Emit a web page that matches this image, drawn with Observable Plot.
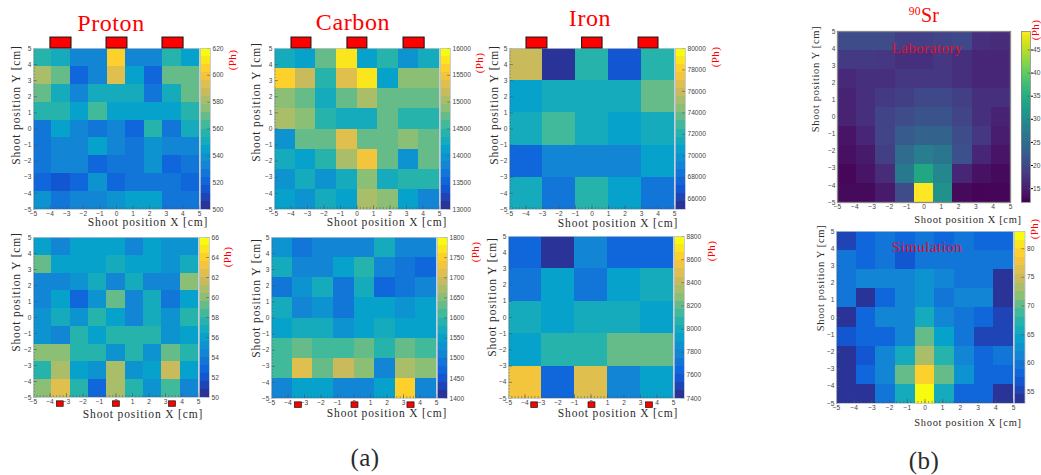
<!DOCTYPE html>
<html><head><meta charset="utf-8">
<script src="https://cdn.jsdelivr.net/npm/d3@7"></script>
<script src="https://cdn.jsdelivr.net/npm/@observablehq/plot@0.6"></script>
<style>
html,body{margin:0;padding:0;background:#fff}
#page{position:relative;width:1041px;height:475px;overflow:hidden;background:#fff}
#page svg{position:absolute;background:transparent;overflow:visible}
.t{position:absolute;white-space:nowrap;font-family:"Liberation Serif",serif;color:#2b2b2b;line-height:1}
.t sup{font-size:.58em;line-height:0;vertical-align:.62em}
</style></head><body><div id="page"></div>
<script>
// Values (rows run from the top row y=5 downwards)
const protonTop=[
[558,548,530,530,604,530,530,556,546],
[578,566,520,534,590,544,520,570,566],
[567,548,534,548,552,552,527,552,570],
[555,555,543,560,543,543,543,543,555],
[527,546,532,525,532,519,555,525,548],
[529,534,534,546,534,529,536,530,530],
[529,534,534,520,529,529,536,522,529],
[523,517,521,536,521,529,529,529,521],
[540,525,530,530,536,544,544,529,529]];
const protonBottom=[
[56,54.3,55.9,55.9,55.9,54.3,55.7,54.8,54.8],
[59,55.6,55.6,55.6,56.7,55.8,55.6,54.8,56.7],
[54.3,54.3,55.3,57,54.3,56.7,54,54.3,60.2],
[54.3,55.9,52.8,55.3,59,54,56.7,53.8,56],
[55.3,56.7,55,57.5,56,54.2,56.7,55.3,57.5],
[55.3,54.2,57.4,55.8,57.2,57.2,57.2,55.3,56],
[60,60,57.5,57.5,55.3,57.4,55.3,59,57.5],
[57.2,60.5,56,54.8,61,55.3,56,61.2,56],
[59.6,62.6,57.2,52.9,61,57.2,55.4,58.5,54.5]];
const carbonTop=[
[14320,14140,14680,15830,14140,14410,13900,14290],
[15580,15240,14440,15360,15830,14050,14930,14930],
[14880,14680,14250,14680,15060,14650,14650,14650],
[15040,14880,14480,14300,14300,14650,14420,14420],
[13950,14780,14650,15380,14650,14650,14930,14780],
[14300,14050,14440,15020,15440,14650,14020,14780],
[13970,14300,13950,14280,14800,14230,14480,14480],
[14130,13950,14300,14130,15040,14930,14130,13770]];
const carbonBottom=[
[1528,1496,1512,1512,1512,1572,1512,1512],
[1568,1508,1508,1540,1584,1508,1496,1472],
[1490,1536,1560,1496,1560,1476,1496,1508],
[1560,1504,1532,1496,1548,1548,1520,1552],
[1552,1576,1576,1520,1552,1576,1552,1552],
[1600,1620,1600,1600,1632,1588,1620,1600],
[1600,1700,1624,1684,1656,1508,1672,1656],
[1508,1540,1540,1508,1508,1540,1740,1508]];
const ironTop=[
[75900,65400,72200,67200,72200],
[70700,71600,71000,71000,73250],
[71600,72500,71300,70250,71000],
[67300,69350,69200,69200,70250],
[71600,68100,71750,70500,68100]];
const ironBottom=[
[7620,7460,7800,7630,7630],
[7740,7930,7690,7930,8015],
[7960,7930,8000,8000,7930],
[7930,8030,8030,8170,8170],
[8565,7630,8500,7790,7930]];
const srLab=[
[20.5,20.5,20.5,19,19,19.5,20,17,16.5],
[18.3,18.3,17.8,17.2,17.2,17.8,17.2,16,16],
[16.2,17.2,17.2,17.8,17.8,17.8,17.2,16,16],
[15.5,17.2,18.2,18.8,20,20,18.8,17.2,17.2],
[15.5,17.2,19.5,20.5,21.5,21.5,19.5,17.2,15.5],
[14,16,19.5,22.5,23.5,23.5,20.5,17.8,15],
[13.5,14.5,18.8,25,27.5,26.5,21,16,14],
[12.7,14,16.5,27,34,29,16,13.7,13],
[13,13,14.5,20.5,49,30.5,13,12.3,12.5]];
const srSim=[
[55,58,60,57.5,60,58,60,58,58],
[60,58,60,57,60,59,60,59.5,59.5],
[60,61,61,61,62,61,59,59,53.5],
[60,53.5,58,61.5,62,59,61,61,53.5],
[53.5,58,60.5,60.5,65,61,60,57.5,55.5],
[56,58,58,61,69.5,64,60,55,55],
[53.5,56,61,66,73,67,61,58,59.5],
[53.5,58,61,70,78.5,70,63,58,58],
[53.5,53.5,59,66,83,66,58,58,53.5]];

// Red detector markers [x1,x2] in cm
const markersTopProton=[[-3.98,-2.71],[-0.6,0.66],[2.77,4.04]];
const markersTopCarbon=[[-3.97,-2.76],[-0.58,0.63],[2.82,4.1]];
const markersTopIron=[[-3.97,-2.7],[-0.6,0.64],[2.82,4.03]];
const markersBotProton=[[-3.58,-3.17],[-0.18,0.23],[3.22,3.63]];
const markersBotCarbon=[[-3.57,-3.16],[-0.15,0.27],[3.24,3.67]];
const markersBotIron=[[-3.62,-3.22],[-0.15,0.27],[3.34,3.75]];

const axisValues=d3.range(-5,6);
const minorValues=d3.range(-25,26).map(d=>d/5);

// ROOT "bird" palette stops
const birdStops=["#2a3398","#0f5cdd","#1481d6","#06a4ca","#2eb7a4","#87bf77","#d1bb59","#fec832","#f9fb0e"];
const birdInterp=d3.piecewise(d3.interpolateRgb,birdStops);
const birdLevels=d3.range(20).map(i=>d3.color(birdInterp(i/19)).formatHex());

const panels=[
 {z:protonTop,f:[33,199,48,209],bar:[200,210],dom:[500,620],ticks:d3.range(500,621,20),mk:markersTopProton,my:[5,5.68],sw:1,minor:true},
 {z:protonBottom,f:[33,198,237,397],bar:[199,209],dom:[50,66],ticks:d3.range(50,67,2),mk:markersBotProton,my:[-5.58,-5.24],sw:.7,minor:true},
 {z:carbonTop,f:[274,439,48,209],bar:[439.5,449.5],dom:[13000,16000],ticks:d3.range(13000,16001,500),mk:markersTopCarbon,my:[5,5.68],sw:1,minor:true},
 {z:carbonBottom,f:[271,436,237,398],bar:[437,447],dom:[1400,1800],ticks:d3.range(1400,1801,50),mk:markersBotCarbon,my:[-5.58,-5.24],sw:.7,minor:true},
 {z:ironTop,f:[509,674,48,209],bar:[675,685],dom:[65000,80000],ticks:d3.range(66000,80001,2000),mk:markersTopIron,my:[5,5.68],sw:1,minor:true},
 {z:ironBottom,f:[508,673,236,398],bar:[674,684],dom:[7400,8800],ticks:d3.range(7400,8801,200),mk:markersBotIron,my:[-5.58,-5.24],sw:.7,minor:true},
 {z:srLab,f:[837,1010,31,202],bar:[1021,1030],dom:[12,49],ticks:d3.range(15,46,5),mk:[],my:[0,0],sw:1,viridis:true,minor:false},
 {z:srSim,f:[836,1013,231,403],bar:[1013.5,1024],dom:[53,83],ticks:d3.range(55,81,5),mk:[],my:[0,0],sw:1,minor:true}
];

const page=document.getElementById("page");
const fmt=d=>d<0?`\u2212${-d}`:`${d}`;
const ML=30,MT=16,MB=16,MR=1;

function cells(z){
  const n=z.length, s=10/n;
  return z.flatMap((row,r)=>row.map((v,c)=>({x1:-5+c*s,x2:-5+(c+1)*s,y1:5-(r+1)*s,y2:5-r*s,v})));
}
function colorScale(p){
  if(p.viridis) return {type:"linear",scheme:"viridis",domain:p.dom};
  const step=(p.dom[1]-p.dom[0])/20;
  return {type:"threshold",domain:d3.range(1,20).map(i=>p.dom[0]+i*step),range:birdLevels};
}
function place(svg,left,top){svg.style.left=left+"px";svg.style.top=top+"px";page.appendChild(svg);}

for(const p of panels){
  const [x0,x1,y0,y1]=p.f;
  const tickColor="#555";
  const chart=Plot.plot({
    width:x1-x0+ML+MR,height:y1-y0+MT+MB,
    marginLeft:ML,marginRight:MR,marginTop:MT,marginBottom:MB,
    style:{background:"transparent",overflow:"visible"},
    x:{domain:[-5,5]},y:{domain:[-5,5]},
    color:colorScale(p),
    marks:[
      Plot.rect(cells(p.z),{x1:"x1",x2:"x2",y1:"y1",y2:"y2",fill:"v",shapeRendering:"crispEdges"}),
      ...(p.minor?[
        Plot.ruleX(minorValues,{y1:-5,y2:-4.88,stroke:tickColor,strokeWidth:.5}),
        Plot.ruleX(axisValues,{y1:-5,y2:-4.76,stroke:tickColor,strokeWidth:.6}),
        Plot.ruleY(minorValues,{x1:-5,x2:-4.88,stroke:tickColor,strokeWidth:.5}),
        Plot.ruleY(axisValues,{x1:-5,x2:-4.76,stroke:tickColor,strokeWidth:.6})]:[]),
      Plot.frame({stroke:p.viridis?"#888":"#b9c4d0",strokeWidth:p.viridis?1.3:.8}),
      Plot.axisX(axisValues,{anchor:"bottom",tickSize:0,tickPadding:1.5,fontSize:6.6,fill:"#444",tickFormat:fmt,label:null,fontFamily:"Liberation Sans"}),
      Plot.axisY(axisValues,{anchor:"left",tickSize:0,tickPadding:2,fontSize:6.6,fill:"#444",tickFormat:fmt,label:null,fontFamily:"Liberation Sans"}),
      Plot.rect(p.mk,{x1:d=>d[0],x2:d=>d[1],y1:p.my[0],y2:p.my[1],fill:"#f00",stroke:"#111",strokeWidth:p.sw,clip:false})
    ]
  });
  place(chart,x0-ML,y0-MT);

  // colour bar
  const nLevels=p.viridis?64:20, st=(p.dom[1]-p.dom[0])/nLevels;
  const levels=d3.range(nLevels).map(i=>({a:p.dom[0]+i*st,b:p.dom[0]+(i+1)*st,v:p.dom[0]+(i+.5)*st}));
  const barW=p.bar[1]-p.bar[0];
  const bar=Plot.plot({
    width:barW+36,height:y1-y0+MT+MB,
    marginLeft:0,marginRight:36,marginTop:MT,marginBottom:MB,
    style:{background:"transparent",overflow:"visible"},
    x:{domain:[0,1],axis:null},y:{domain:p.dom,axis:null},
    color:colorScale(p),
    marks:[
      Plot.rect(levels,{x1:0,x2:1,y1:"a",y2:"b",fill:"v",shapeRendering:"crispEdges"}),
      Plot.ruleY(p.ticks,{x1:0.72,x2:1,stroke:tickColor,strokeWidth:.6}),
      Plot.frame({stroke:p.viridis?"#888":"#b9c4d0",strokeWidth:.8}),
      Plot.axisY(p.ticks,{anchor:"right",tickSize:p.viridis?2:0,tickPadding:p.viridis?0.5:2,fontSize:6.6,fill:"#444",tickFormat:d=>`${d}`,label:null,fontFamily:"Liberation Sans"})
    ]
  });
  place(bar,p.bar[0],y0-MT);
}

// Text overlays: [html, x centre, y centre, font size, letter spacing, rotated?, colour]
const RED="#f00", DK="#2b2b2b", CR="#e0102a";
const texts=[
 ["Proton",111,23,24,.6,0,RED],["Carbon",353,22,24,.6,0,RED],["Iron",590,18,24,.6,0,RED],
 ["<sup>90</sup>Sr",924,15,20,.3,0,RED],
 ["Laboratory",927,48,15,.45,0,CR],["Simulation",927,247,15,.45,0,CR],
 ["(a)",365,457,25,.5,0,DK],["(b)",924,460,25,.5,0,DK],
 ["Shoot position X [cm]",148,222.5,11.5,.85,0,DK],["Shoot position X [cm]",143,414.5,11.5,.85,0,DK],
 ["Shoot position X [cm]",387,223,11.5,.85,0,DK],["Shoot position X [cm]",387,414,11.5,.85,0,DK],
 ["Shoot position X [cm]",618,224,11.5,.85,0,DK],["Shoot position X [cm]",618,414,11.5,.85,0,DK],
 ["Shoot position X [cm]",968,220,10.5,.65,0,DK],["Shoot position X [cm]",968,422.5,10.5,.65,0,DK],
 ["Shoot position Y [cm]",17,105,11.5,.85,1,DK],["Shoot position Y [cm]",17,292,11.5,.85,1,DK],
 ["Shoot position Y [cm]",257,102,11.5,.85,1,DK],["Shoot position Y [cm]",257,298,11.5,.85,1,DK],
 ["Shoot position Y [cm]",495,105,11.5,.85,1,DK],["Shoot position Y [cm]",493,297,11.5,.85,1,DK],
 ["Shoot position Y [cm]",816,79,10.5,.65,1,DK],["Shoot position Y [cm]",821,278,10.5,.65,1,DK],
 ["(Ph)",232,60,11,.4,1,RED],["(Ph)",227,257,11,.4,1,RED],["(Ph)",479,63,11,.4,1,RED],["(Ph)",475,252,11,.4,1,RED],
 ["(Ph)",715,57,11,.4,1,RED],["(Ph)",711,251,11,.4,1,RED],["(Ph)",1035,30,11,.4,1,RED],["(Ph)",1034,229,11,.4,1,RED]
];
for(const [h,x,y,fs,ls,rot,col] of texts){
  const d=document.createElement("div");
  d.className="t";d.innerHTML=h;
  d.style.cssText=`left:${x}px;top:${y}px;font-size:${fs}px;letter-spacing:${ls}px;color:${col};transform:translate(-50%,-50%)${rot?" rotate(-90deg)":""}`;
  page.appendChild(d);
}
</script></body></html>
